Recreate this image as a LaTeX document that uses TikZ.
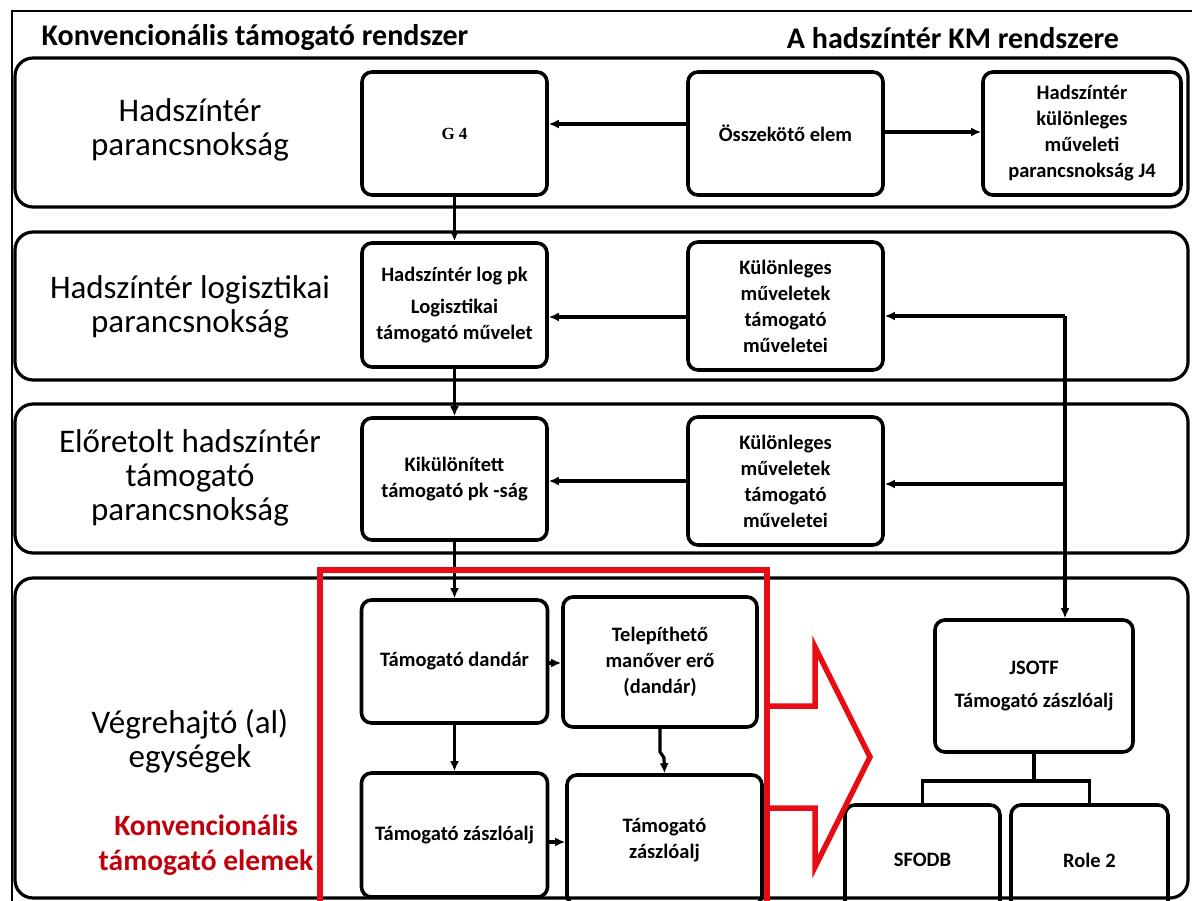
\documentclass[tikz,border=0pt]{standalone}
\usepackage{fontspec}
\setmainfont{Carlito}
\newfontfamily\gfont{Liberation Serif}
\usepackage{xcolor}
\usetikzlibrary{arrows.meta}

\definecolor{konvred}{RGB}{192,0,12}
\definecolor{framered}{RGB}{232,12,20}

\begin{document}
\begin{tikzpicture}[x=1pt, y=-1pt,
  box/.style={draw, line width=3.6pt, rounded corners=10pt, align=center, inner sep=2pt,
    font=\bfseries\fontsize{20.5}{26}\selectfont},
  band/.style={draw, line width=3.2pt, rounded corners=18pt},
  lvl/.style={align=center, font=\fontsize{33}{34}\selectfont},
  head/.style={font=\bfseries\fontsize{30}{34}\selectfont},
  arr/.style={-{Latex[length=10pt,width=9pt]}, line width=3.2pt},
  ln/.style={line width=3.4pt},
  redline/.style={draw=framered, line width=5.5pt, miter limit=20}]
\useasboundingbox (0,0) rectangle (1192,901);
\clip (0,0) rectangle (1192,901);

% frame and levels
\draw[line width=2.4pt] (12,11) rectangle (1210,1000);
\node[head] (t1) at (255,38) {Konvencionális támogató rendszer};
\node[head] (t2) at (953,38) {A hadszíntér KM rendszere};
\draw[band] (15,58) rectangle (1188,207);
\draw[band] (15,232) rectangle (1188,380);
\draw[band] (15,404) rectangle (1188,553);
\draw[band] (15,578) rectangle (1188,898);

\node[lvl] (l1) at (190,130) {Hadszíntér\\parancsnokság};
\node[lvl] (l2) at (190,307) {Hadszíntér logisztikai\\parancsnokság};
\node[lvl] (l3) at (190,478) {Előretolt hadszíntér\\támogató\\parancsnokság};
\node[lvl] (l4) at (190,741) {Végrehajtó (al)\\egységek};
\node[lvl, text=konvred, font=\bfseries\fontsize{29.5}{35}\selectfont] (l5) at (206,845) {Konvencionális\\támogató elemek};

% boxes
\node[box, minimum width=185pt, minimum height=123pt, font=\gfont\bfseries\fontsize{17}{20}\selectfont] (g4) at (454.5,133.5) {G 4};
\node[box, minimum width=195pt, minimum height=123pt] (oe) at (785.5,133.5) {Összekötő elem};
\node[box, minimum width=198pt, minimum height=123pt] (j4) at (1082,133.5) {Hadszíntér\\különleges\\műveleti\\parancsnokság J4};
\node[box, minimum width=185pt, minimum height=124pt] (logpk) at (454.5,305) {Hadszíntér log pk\\[6pt]Logisztikai\\támogató művelet};
\node[box, minimum width=195pt, minimum height=128pt] (kul1) at (785.5,306) {Különleges\\műveletek\\támogató\\műveletei};
\node[box, minimum width=185pt, minimum height=122pt] (kik) at (454.5,479) {Kikülönített\\támogató pk -ság};
\node[box, minimum width=195pt, minimum height=128pt] (kul2) at (785.5,481) {Különleges\\műveletek\\támogató\\műveletei};
\node[box, minimum width=186pt, minimum height=123pt] (td) at (454.5,661.5) {Támogató dandár};
\node[box, minimum width=194pt, minimum height=130pt] (tm) at (660,662) {Telepíthető\\manőver erő\\(dandár)};
\node[box, minimum width=186pt, minimum height=124pt] (tz1) at (454.5,835) {Támogató zászlóalj};
\node[box, minimum width=195pt, minimum height=130pt] (tz2) at (664.5,840) {Támogató\\zászlóalj};
\node[box, minimum width=198pt, minimum height=132pt] (js) at (1034,686) {JSOTF\\[7pt]Támogató zászlóalj};
\node[box, minimum width=155pt, minimum height=110pt] (sf) at (922.5,860) {SFODB};
\node[box, minimum width=157pt, minimum height=110pt] (r2) at (1089.5,860) {Role 2};

% connectors
\coordinate (sp) at (1065,316);
\draw[arr] (oe.west |- 0,124) -- (g4.east |- 0,124);
\draw[arr] (oe.east |- 0,132) -- (j4.west |- 0,132);
\draw[arr] (g4.south) -- (logpk.north);
\draw[arr] (logpk.south) -- (kik.north);
\draw[arr] (kik.south) -- (td.north);
\draw[arr] (kul1.west |- 0,317) -- (logpk.east |- 0,317);
\draw[arr] (kul2.west |- 0,481) -- (kik.east |- 0,481);
\draw[arr] (sp) -- (kul1.east |- sp);
\draw[arr] (sp |- 0,484) -- (kul2.east |- 0,484);
\draw[arr] (sp) -- (sp |- js.north);
\draw[arr] (td.east |- 0,663) -- (tm.west |- 0,663);
\draw[arr] (td.south) -- (tz1.north);
\draw[arr] (tm.south) -- ++(0,23) -- ++(4,6) -- (tz2.north);
\draw[arr] (tz1.east |- 0,842) -- (tz2.west |- 0,842);
\draw[ln] (js.south) -- ++(0,27) coordinate (jt) -| (sf.north);
\draw[ln] (jt) -| (r2.north);

% red group and arrow
\draw[redline, fill=white] (767,706) -- (815,706) -- (815,647) -- (870,757)
  -- (815,867) -- (815,808) -- (767,808);
\draw[redline] (320,920) -- (320,570) -- (767,570) -- (767,920);
\end{tikzpicture}
\end{document}
